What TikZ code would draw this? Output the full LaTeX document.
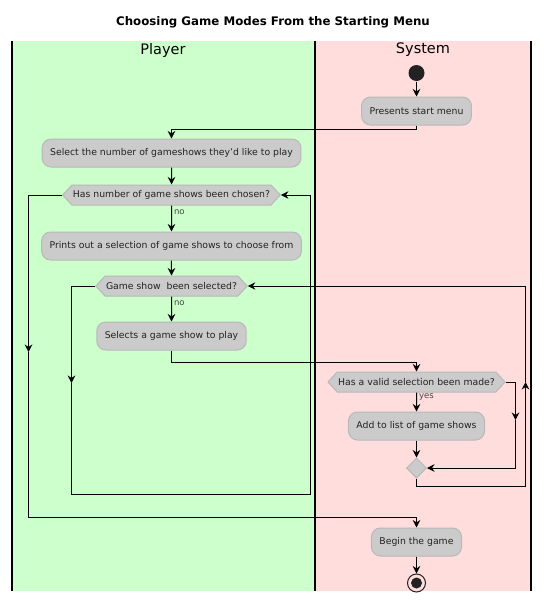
\documentclass[tikz,border=0pt]{standalone}
\usepackage{fontspec}
\setmainfont{DejaVu Sans}
\usepackage{tikz}
\usetikzlibrary{positioning,arrows.meta,shapes.geometric,shapes.symbols}

\definecolor{playerlane}{HTML}{CCFFCC}
\definecolor{systemlane}{HTML}{FFDDDD}
\definecolor{boxgray}{HTML}{CBCBCB}
\definecolor{boxline}{HTML}{B8B8B8}
\definecolor{dotgray}{HTML}{222222}
\definecolor{guardgray}{HTML}{444444}

\begin{document}
\begin{tikzpicture}[
		x=1pt, y=-1pt, line width=1pt,
		>={Stealth[length=7.5pt,width=7.5pt,inset=2.5pt]},
		actnode/.style={rounded corners=9pt, draw=boxline, fill=boxgray, text=dotgray, minimum height=28pt, inner xsep=8pt, font=\fontsize{9.3}{11}\selectfont},
		decnode/.style={signal, signal to=east and west, signal pointer angle=95, draw=boxline, fill=boxgray, text=dotgray, minimum height=20pt, inner xsep=1pt, inner ysep=2pt, font=\fontsize{9.3}{11}\selectfont},
		mergenode/.style={diamond, aspect=1, draw=boxline, fill=boxgray, minimum size=20pt, inner sep=0pt},
		startnode/.style={circle, fill=dotgray, minimum size=16pt, inner sep=0pt},
		stopnode/.style={circle, draw=dotgray, minimum size=18pt, inner sep=0pt, path picture={\fill[dotgray] (path picture bounding box.center) circle (5.5pt);}},
		guard/.style={right, text=guardgray, inner sep=2pt, font=\fontsize{8.5}{10}\selectfont},
		lanehead/.style={font=\fontsize{14.5}{16}\selectfont},
	]

	\useasboundingbox (0,0) rectangle (547,600);

	%Lanes
	\fill[playerlane] (12,41) rectangle (315,591);
	\fill[systemlane] (315,41) rectangle (531,591);
	\draw[line width=1.3pt] (12,41) -- (12,591) (315,41) -- (315,591) (531,41) -- (531,591);

	%Nodes
	\node[font=\bfseries\fontsize{11.8}{13}\selectfont]	(title)	at (273,22)	{Choosing Game Modes From the Starting Menu};
	\node[lanehead]	(player)	at (163,50)	{Player};
	\node[lanehead]	(system)	at (423,50)	{System};

	\node[startnode]	(start)		at (416.5,73)	{};
	\node[actnode]		(present)	[below=15pt of start]	{Presents start menu};
	\node[actnode]		(select)	at (171.5,153)	{Select the number of gameshows they'd like to play};
	\node[decnode]		(chosen)	[below=17pt of select]	{Has number of game shows been chosen?};
	\node[actnode]		(prints)	[below=26pt of chosen]	{Prints out a selection of game shows to choose from};
	\node[decnode]		(picked)	[below=15pt of prints]	{Game show\ \ been selected?};
	\node[actnode]		(selects)	[below=25pt of picked]	{Selects a game show to play};
	\node[decnode]		(valid)		at (416.5,382)	{Has a valid selection been made?};
	\node[actnode]		(add)		[below=19pt of valid]	{Add to list of game shows};
	\node[mergenode]	(merge)		[below=17pt of add]	{};
	\node[actnode]		(begin)		at (416.5,542)	{Begin the game};
	\node[stopnode]		(stop)		[below=17pt of begin]	{};

	\coordinate (m1) at (28.5,352);
	\coordinate (c1) at (28.5,517.5);
	\coordinate (m2) at (71.5,383);
	\coordinate (c2) at (310.5,494.5);
	\coordinate (m3) at (515.5,420);
	\coordinate (m4) at (525.5,382);

	%Lines
	\draw[->]	(start) -- (present);
	\draw[->]	(present.south) -- ++(0,4) -| (select.north);
	\draw[->]	(select) -- (chosen);
	\draw[->]	(chosen) -- node[guard, near start] {no} (prints);
	\draw[->]	(prints) -- (picked);
	\draw[->]	(picked) -- node[guard, near start] {no} (selects);
	\draw[->]	(selects.south) -- ++(0,12) -| (valid.north);
	\draw[->]	(valid) -- node[guard, near start] {yes} (add);
	\draw[->]	(add) -- (merge);
	\draw[->]	(valid.east) -| (m3);
	\draw[->]	(m3) |- (merge.east);
	\draw[->]	(merge.south) -- ++(0,8) -| (m4);
	\draw[->]	(m4) |- (picked.east);
	\draw[->]	(picked.west) -| (m2);
	\draw[->]	(m2) |- (c2) |- (chosen.east);
	\draw[->]	(chosen.west) -| (m1);
	\draw[->]	(m1) -- (c1) -| (begin.north);
	\draw[->]	(begin) -- (stop);

\end{tikzpicture}
\end{document}
